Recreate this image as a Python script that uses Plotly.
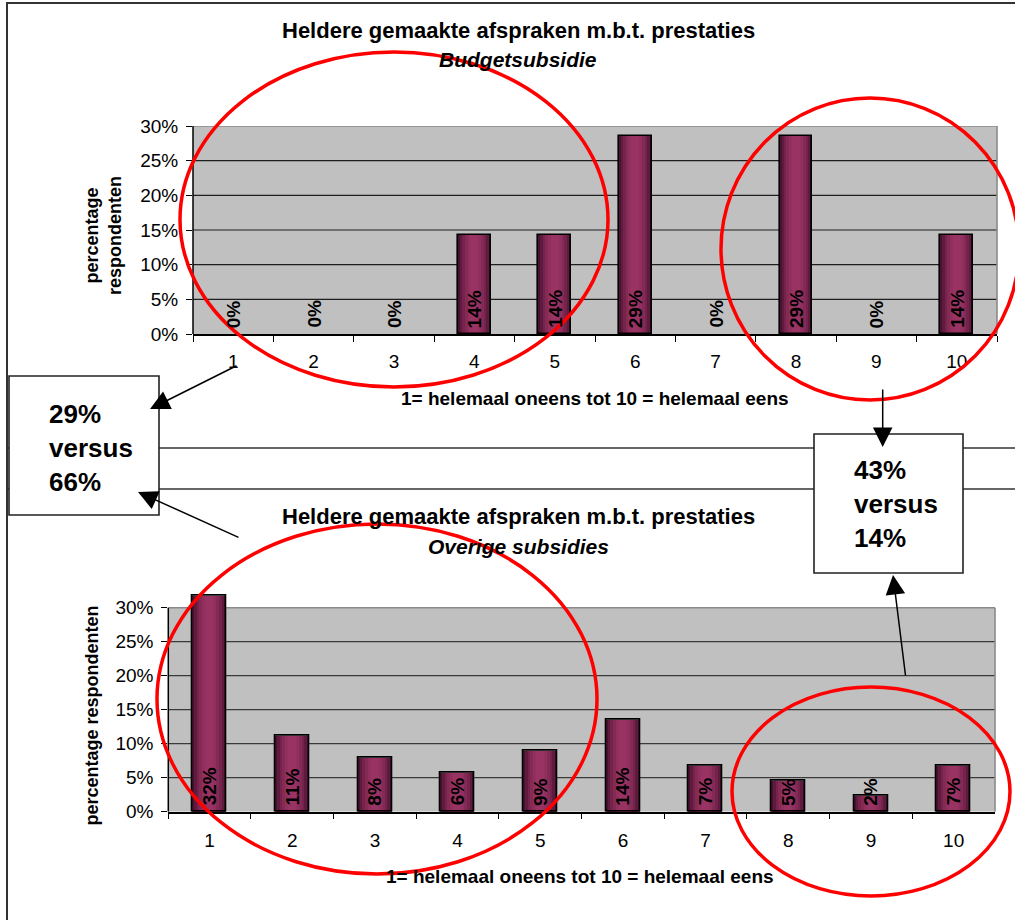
import plotly.graph_objects as go

W, H = 1015, 920

# ---------------- data ----------------
categories = ["1", "2", "3", "4", "5", "6", "7", "8", "9", "10"]
budget_values = [0, 0, 0, 14.29, 14.29, 28.57, 0, 28.57, 0, 14.29]
budget_labels = ["0%", "0%", "0%", "14%", "14%", "29%", "0%", "29%", "0%", "14%"]
overige_values = [31.8, 11.2, 8.0, 5.7, 9.0, 13.6, 6.8, 4.5, 2.3, 6.8]
overige_labels = ["32%", "11%", "8%", "6%", "9%", "14%", "7%", "5%", "2%", "7%"]
y_tickvals = [0, 5, 10, 15, 20, 25, 30]
y_ticktext = ["0%", "5%", "10%", "15%", "20%", "25%", "30%"]

title_text = "<b>Heldere gemaakte afspraken m.b.t. prestaties</b>"
sub_top = "<b><i>Budgetsubsidie</i></b>"
sub_bottom = "<b><i>Overige subsidies</i></b>"
x_title = "<b>1= helemaal oneens tot 10 = helemaal eens</b>"
box_left_text = "<b>29%<br>versus<br>66%</b>"
box_right_text = "<b>43%<br>versus<br>14%</b>"

FONT = "Arial, Liberation Sans, sans-serif"


def px(x):
    return x / W


def py(y):
    return 1 - y / H


# gradient layers for the bars (width in category units, colour)
grad_layers = [
    (0.41, "#4a1230"),
    (0.36, "#5f1b3d"),
    (0.30, "#74234a"),
    (0.24, "#852a55"),
    (0.17, "#91305e"),
    (0.10, "#983364"),
]

fig = go.Figure()


def add_bars(values, xa, ya):
    vals = [v if v > 0 else None for v in values]
    for w, c in grad_layers:
        fig.add_trace(go.Bar(x=categories, y=vals, width=w,
                             marker=dict(color=c, line=dict(width=0)),
                             xaxis=xa, yaxis=ya, hoverinfo="skip",
                             showlegend=False))
    fig.add_trace(go.Bar(x=categories, y=vals, width=grad_layers[0][0],
                         marker=dict(color="rgba(0,0,0,0)",
                                     line=dict(width=1.6, color="#000")),
                         xaxis=xa, yaxis=ya, hoverinfo="skip",
                         showlegend=False))


add_bars(budget_values, "x", "y")
add_bars(overige_values, "x2", "y2")

# plot area pixel geometry
top_x0, top_x1, top_y0, top_y30 = 193, 997, 334, 126
bot_x0, bot_x1, bot_y0 = 168.3, 995, 811.7
bot_pp = 6.8  # px per percent
bot_top_range = 32.5
bot_ytop = bot_y0 - bot_top_range * bot_pp

axis_common = dict(type="category", showline=True, linecolor="#000",
                   linewidth=1.5, ticks="outside", tickson="boundaries",
                   ticklen=6, tickcolor="#000", tickwidth=1.2,
                   showgrid=False, zeroline=False, automargin=False,
                   tickfont=dict(family=FONT, size=19, color="#000"))
yaxis_common = dict(tickvals=y_tickvals, ticktext=y_ticktext,
                    ticks="outside", ticklen=6, tickcolor="#000",
                    tickwidth=1.2, showline=False, zeroline=False,
                    showgrid=False, automargin=False,
                    tickfont=dict(family=FONT, size=19, color="#000"),
                    ticklabelstandoff=4, fixedrange=True)

fig.update_layout(
    width=W, height=H, autosize=False,
    margin=dict(l=0, r=0, t=0, b=0, pad=0, autoexpand=False),
    paper_bgcolor="white", plot_bgcolor="rgba(0,0,0,0)",
    barmode="overlay", bargap=0, showlegend=False,
    font=dict(family=FONT, color="#000"),
    xaxis=dict(domain=[px(top_x0), px(top_x1)], anchor="y",
               ticklabelstandoff=9, **axis_common),
    yaxis=dict(domain=[py(top_y0), py(top_y30)], range=[0, 30], anchor="x",
               **yaxis_common),
    xaxis2=dict(domain=[px(bot_x0), px(bot_x1)], anchor="y2",
                ticklabelstandoff=11, **axis_common),
    yaxis2=dict(domain=[py(bot_y0), py(bot_ytop)], range=[0, bot_top_range],
                anchor="x2", **yaxis_common),
)

shapes = []
# plot area backgrounds, gridlines and borders (below the bars)
for xr, yr, gcol in (("x", "y", "#1e1e1e"), ("x2", "y2", "#3a3a3a")):
    shapes.append(dict(type="rect", xref=f"{xr} domain", yref=yr, x0=0, x1=1,
                       y0=0, y1=30, fillcolor="#C0C0C0", line=dict(width=0),
                       layer="below"))
    for v in y_tickvals[1:-1]:
        shapes.append(dict(type="line", xref=f"{xr} domain", yref=yr, x0=0, x1=1,
                           y0=v, y1=v, line=dict(color=gcol, width=1.2),
                           layer="below"))
    shapes.append(dict(type="line", xref=f"{xr} domain", yref=yr, x0=0, x1=1,
                       y0=y_tickvals[-1], y1=y_tickvals[-1],
                       line=dict(color="#8a8a8a", width=1.6), layer="below"))
    shapes.append(dict(type="line", xref=f"{xr} domain", yref=yr, x0=1, x1=1,
                       y0=0, y1=30, line=dict(color="#8a8a8a", width=1.6),
                       layer="below"))
    shapes.append(dict(type="line", xref=f"{xr} domain", yref=yr, x0=0, x1=0,
                       y0=0, y1=30, line=dict(color="#000", width=1.5),
                       layer="above"))

# outer frame lines
frame = dict(color="#333", width=2)
shapes.append(dict(type="line", xref="paper", yref="paper", x0=px(6), x1=px(1015),
                   y0=py(3), y1=py(3), line=frame, layer="above"))
shapes.append(dict(type="line", xref="paper", yref="paper", x0=px(7), x1=px(7),
                   y0=py(3), y1=py(920), line=frame, layer="above"))
for yy in (448, 489):
    shapes.append(dict(type="line", xref="paper", yref="paper", x0=px(7), x1=px(1015),
                       y0=py(yy), y1=py(yy), line=dict(color="#333", width=1.6),
                       layer="above"))

# boxes
for x0, y0, x1, y1 in ((9, 376, 159, 515), (814, 434, 963, 573)):
    shapes.append(dict(type="rect", xref="paper", yref="paper",
                       x0=px(x0), x1=px(x1), y0=py(y0), y1=py(y1),
                       fillcolor="white", line=dict(color="#222", width=1.6),
                       layer="above"))

# red ellipses
for x0, y0, x1, y1 in ((180, 52, 608, 387), (721, 98, 1019, 400),
                       (157, 524, 597, 874), (732, 687, 1010, 896)):
    shapes.append(dict(type="circle", xref="paper", yref="paper",
                       x0=px(x0), x1=px(x1), y0=py(y0), y1=py(y1),
                       line=dict(color="#FF0000", width=3.5), layer="above"))

fig.update_layout(shapes=shapes)

ann = []
# titles
for text, yy, size in ((title_text, 30, 22), (sub_top, 60, 21),
                       (title_text, 516, 22), (sub_bottom, 546, 21)):
    ann.append(dict(text=text, xref="paper", yref="paper", x=px(518), y=py(yy),
                    xanchor="center", yanchor="middle", showarrow=False,
                    font=dict(family=FONT, size=size, color="#000")))
# axis titles
ann.append(dict(text=x_title, xref="paper", yref="paper", x=px(595), y=py(398),
                xanchor="center", yanchor="middle", showarrow=False,
                font=dict(family=FONT, size=19, color="#000")))
ann.append(dict(text=x_title, xref="paper", yref="paper", x=px(580), y=py(876),
                xanchor="center", yanchor="middle", showarrow=False,
                font=dict(family=FONT, size=19, color="#000")))
ann.append(dict(text="<b>percentage<br>respondenten</b>", xref="paper", yref="paper",
                x=px(103), y=py(236), xanchor="center", yanchor="middle",
                textangle=-90, showarrow=False,
                font=dict(family=FONT, size=18, color="#000")))
ann.append(dict(text="<b>percentage respondenten</b>", xref="paper", yref="paper",
                x=px(91.5), y=py(716), xanchor="center", yanchor="middle",
                textangle=-90, showarrow=False,
                font=dict(family=FONT, size=18, color="#000")))

# bar value labels (x given as category index)
for xa, ya, labels in (("x", "y", budget_labels), ("x2", "y2", overige_labels)):
    for i, lab in enumerate(labels):
        ann.append(dict(text=f"<b>{lab}</b>", xref=xa, yref=ya, x=i, y=0,
                        xanchor="center", yanchor="bottom", yshift=4,
                        textangle=-90, showarrow=False,
                        font=dict(family=FONT, size=19, color="#000")))

# box texts
ann.append(dict(text=box_left_text, xref="paper", yref="paper", x=px(47), y=py(448),
                xanchor="left", yanchor="middle", align="left", showarrow=False,
                font=dict(family=FONT, size=26, color="#000")))
ann.append(dict(text=box_right_text, xref="paper", yref="paper", x=px(852), y=py(504),
                xanchor="left", yanchor="middle", align="left", showarrow=False,
                font=dict(family=FONT, size=26, color="#000")))

# arrows (tip x, tip y, tail x, tail y)
for tx, ty, sx, sy in ((150, 409, 238, 365), (138, 492, 240, 538),
                       (882.7, 447, 882.7, 388), (893, 575, 905.7, 677)):
    ann.append(dict(text="", xref="paper", yref="paper", x=px(tx), y=py(ty),
                    ax=sx - tx, ay=sy - ty, showarrow=True, arrowhead=2,
                    arrowsize=2.6, arrowwidth=1.5, arrowcolor="#000",
                    standoff=0))

fig.update_layout(annotations=ann)

fig.write_html("out.html", config={"displayModeBar": False},
               post_script="document.body.style.margin='0';")
